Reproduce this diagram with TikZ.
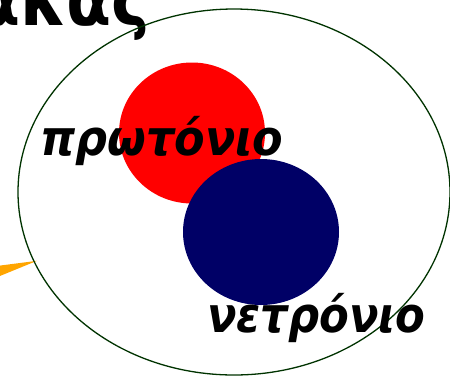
\documentclass[tikz,border=0pt]{standalone}
\usepackage{fontspec}
\usetikzlibrary{shapes.geometric}
\setmainfont{DejaVu Sans}
\definecolor{ringgreen}{RGB}{0,51,0}
\definecolor{neutronblue}{RGB}{0,0,102}
\definecolor{arroworange}{RGB}{255,165,0}
\newcommand{\narrowtext}[2][0.91]{\scalebox{#1}[1]{#2}}
\tikzset{
  particlelabel/.style={inner sep=0pt, font=\fontsize{49}{54}\selectfont\bfseries\itshape, anchor=base west},
  ring/.style={draw=ringgreen, line width=1.3pt}
}
\begin{document}
\begin{tikzpicture}[x=1pt,y=-1pt]
\useasboundingbox (0,0) rectangle (450,376);
\clip (0,0) rectangle (450,376);
\node[inner sep=0pt, anchor=base east, font=\fontsize{72}{78}\selectfont\bfseries] (title) at (151,25) {\narrowtext{ακας}};
\fill[arroworange] (-5,266.2) -- (37,260.8) -- (-5,278) -- cycle;
\node[ring, ellipse, minimum width=432pt, minimum height=366pt, inner sep=0pt] (nucleus) at (234,192) {};
\fill[red] (192,133) ellipse [x radius=73, y radius=70.5];
\node[inner sep=0pt] (proton) at (192,133) {};
\fill[neutronblue] (261,232) ellipse [x radius=78, y radius=73];
\node[inner sep=0pt] (neutron) at (261,232) {};
\node[particlelabel] (plabel) at (40,155) {\narrowtext{πρωτόνιο}};
\node[particlelabel] (nlabel) at (207,332) {\narrowtext[0.885]{νετρόνιο}};
\end{tikzpicture}
\end{document}
